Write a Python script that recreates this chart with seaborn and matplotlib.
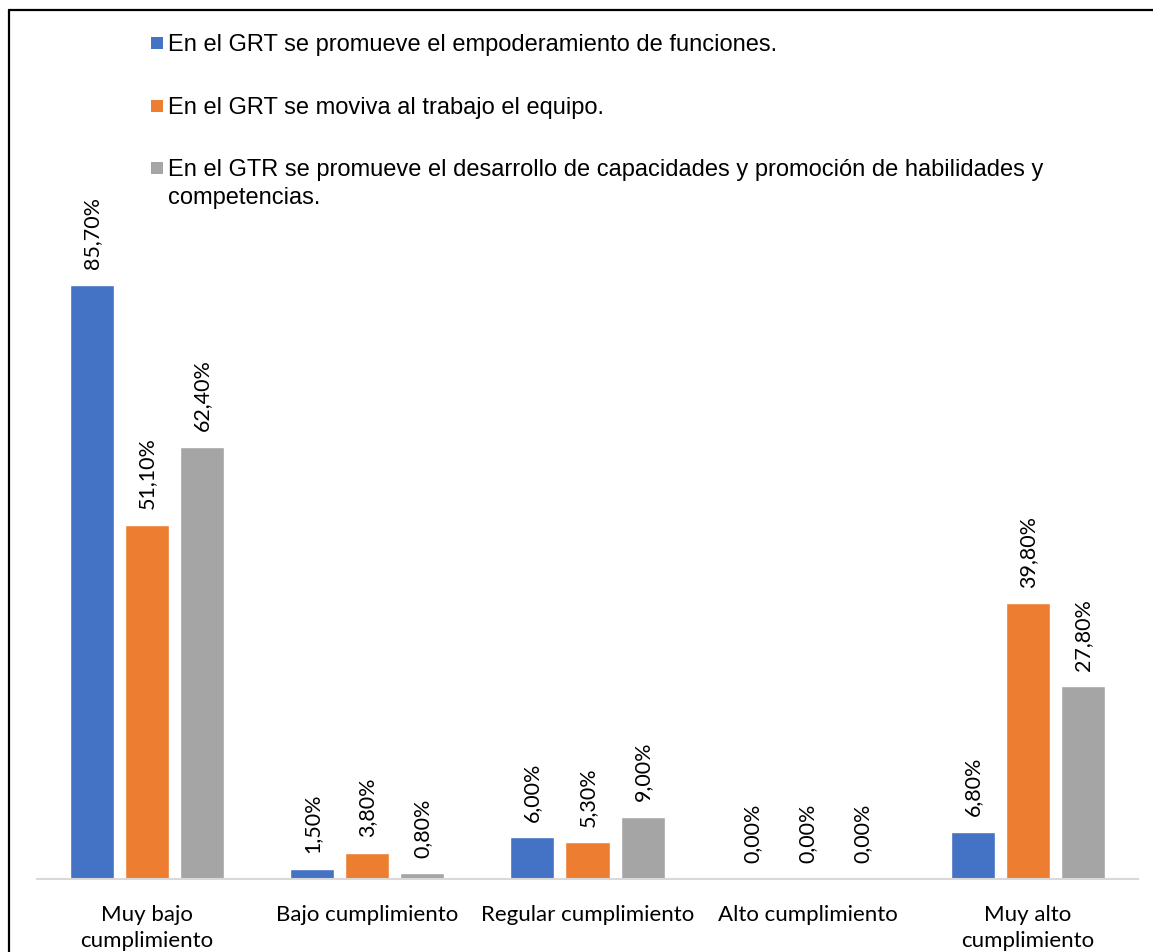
import matplotlib
matplotlib.use("Agg")
import matplotlib.pyplot as plt
from matplotlib.patches import Rectangle
from matplotlib.lines import Line2D
import seaborn as sns
import pandas as pd

# Categories on the x axis
categories = ["Muy bajo\ncumplimiento", "Bajo cumplimiento", "Regular cumplimiento",
              "Alto cumplimiento", "Muy alto\ncumplimiento"]

# Series names
series = [
    "En el GRT se promueve el empoderamiento de funciones.",
    "En el GRT se moviva al trabajo el equipo.",
    "En el GTR se promueve el desarrollo de capacidades y promoción de habilidades y\ncompetencias.",
]

# Percentages per series
empoderamiento = [85.7, 1.5, 6.0, 0.0, 6.8]
trabajo_equipo = [51.1, 3.8, 5.3, 0.0, 39.8]
capacidades = [62.4, 0.8, 9.0, 0.0, 27.8]

colors = ["#4472C4", "#ED7D31", "#A5A5A5"]

sns.set_theme(style="white")
plt.rcParams["font.family"] = ["Lato", "DejaVu Sans"]

rows = []
for name, vals in zip(series, [empoderamiento, trabajo_equipo, capacidades]):
    for cat, v in zip(categories, vals):
        rows.append({"categoria": cat, "serie": name, "valor": v})
df = pd.DataFrame(rows)

W, H = 1153, 953
fig = plt.figure(figsize=(W / 100, H / 100), dpi=100)
ax = fig.add_axes([37 / W, (H - 880) / H, 1101 / W, 693 / H])

sns.barplot(data=df, x="categoria", y="valor", hue="serie", order=categories,
            hue_order=series, palette=colors, width=0.75, gap=0.2,
            legend=False, ax=ax, saturation=1)

ax.set_xlim(-0.5, 4.5)
ax.set_ylim(0, 100)
ax.set_xlabel("")
ax.set_ylabel("")
ax.set_yticks([])
for s in ["left", "right", "top"]:
    ax.spines[s].set_visible(False)
ax.spines["bottom"].set_color("#D9D9D9")
ax.spines["bottom"].set_linewidth(1.5)
ax.tick_params(axis="x", length=0, pad=18, labelsize=16, labelcolor="#000000")
for lbl in ax.get_xticklabels():
    lbl.set_linespacing(1.35)

# Value labels above each bar
for container in ax.containers:
    for bar in container:
        h = bar.get_height()
        ax.annotate(f"{h:.2f}%".replace(".", ","),
                    xy=(bar.get_x() + bar.get_width() / 2, h),
                    xytext=(0, 12), textcoords="offset points",
                    rotation=90, ha="center", va="bottom",
                    fontsize=15.5, color="#000000")

# Legend at the top, one entry per block; wrapped lines 28 px apart
baselines = [51, 114, 176]
for name, col, yb in zip(series, colors, baselines):
    fig.patches.append(Rectangle((151 / W, 1 - (yb - 1) / H), 12 / W, 12 / H,
                                 transform=fig.transFigure, facecolor=col,
                                 edgecolor="none"))
    for i, line in enumerate(name.split("\n")):
        fig.text(168 / W, 1 - (yb + 28 * i) / H, line, ha="left", va="baseline",
                 fontsize=17, family=["Liberation Sans", "DejaVu Sans"],
                 color="#000000")

# Frame lines on the left and top
fig.add_artist(Line2D([8.5 / W, 8.5 / W], [0, 1 - 11 / H], transform=fig.transFigure,
                      color="black", linewidth=1.6))
fig.add_artist(Line2D([8.5 / W, 1], [1 - 11 / H, 1 - 11 / H], transform=fig.transFigure,
                      color="black", linewidth=1.6))

fig.savefig("out.png", dpi=100)
